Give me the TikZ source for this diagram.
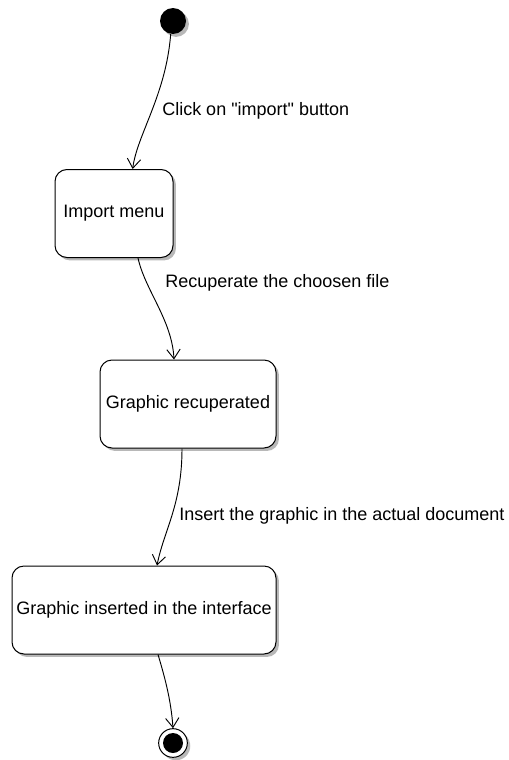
\documentclass[tikz,border=0pt]{standalone}
\usepackage{fontspec}
\setmainfont{Liberation Sans}[Ligatures=TeXOff]
\usetikzlibrary{arrows.meta,shadows}

\tikzset{
  umlshadow/.style={drop shadow={shadow xshift=2.2pt,shadow yshift=-2.2pt,fill=black!28,opacity=1}},
  statebox/.style={draw,rounded corners=9pt,fill=white,line width=0.75pt,
    minimum height=66pt,inner sep=0pt,font=\fontsize{13.5}{16}\selectfont,umlshadow},
  initst/.style={circle,fill=black,minimum size=19.5pt,inner sep=0pt,umlshadow},
  finalst/.style={circle,draw,fill=white,line width=0.75pt,minimum size=21.5pt,inner sep=0pt,umlshadow},
  finaldot/.style={circle,fill=black,minimum size=15pt,inner sep=0pt},
  trans/.style={line width=0.7pt,-{Straight Barb[length=7pt,width=10pt]}},
  translabel/.style={anchor=base west,inner sep=0pt,font=\fontsize{13.5}{16}\selectfont}
}

\begin{document}
\begin{tikzpicture}[x=0.75pt,y=-0.75pt]
        \useasboundingbox (0,0) rectangle (509,760);
        %% states
        \node[initst] (start) at (173,21) {};
        \node[statebox,minimum width=88.5pt] (import) at (114,213.5) {Import menu};
        \node[statebox,minimum width=132pt] (recup) at (188,404) {Graphic recuperated};
        \node[statebox,minimum width=198pt] (inserted) at (144,610) {Graphic inserted in the interface};
        \node[finalst] (stop) at (173,743) {};
        \node[finaldot] (stopdot) at (stop) {};
        %% transitions
        \draw[trans] (start.260) .. controls (166,95) and (137,135) .. ([xshift=14pt]import.north);
        \draw[trans] ([xshift=18pt]import.south) .. controls (145,290) and (172,320) .. ([xshift=-10.5pt]recup.north);
        \draw[trans] ([xshift=-4.5pt]recup.south) .. controls (182,505) and (164,530) .. ([xshift=9.75pt]inserted.north);
        \draw[trans] ([xshift=10.5pt]inserted.south) .. controls (165,678) and (171,700) .. (stop.north);
        %% labels
        \node[translabel] (lclick) at (162,115) {Click on "import" button};
        \node[translabel] (lrecup) at (165,287) {Recuperate the choosen file};
        \node[translabel] (linsert) at (179,520) {Insert the graphic in the actual document};
\end{tikzpicture}
\end{document}
